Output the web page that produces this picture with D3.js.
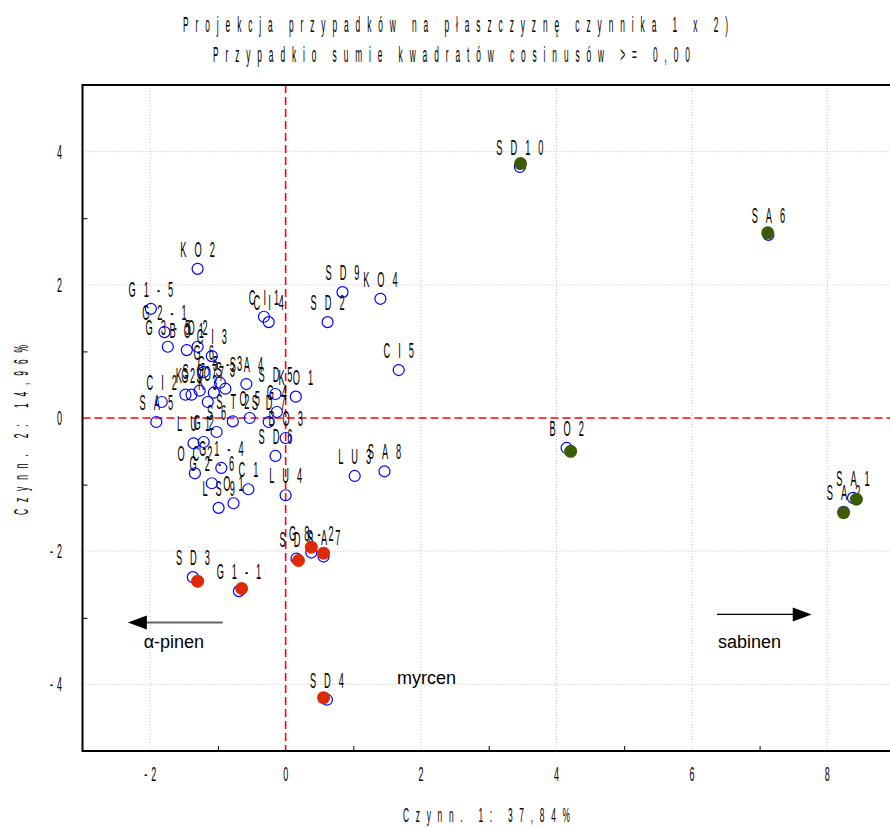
<!DOCTYPE html>
<html>
<head>
<meta charset="utf-8">
<script src="https://cdn.jsdelivr.net/npm/d3@7"></script>
<style>
  body { margin: 0; background: #fff; }
  svg { display: block; }
</style>
</head>
<body>
<script>
// case labels and their factor coordinates (blue open circles)
var names = ["KO2", "G1-5", "CI1", "CI4", "SD9", "KO4", "SD2", "CI5", "G2-1", "G3-5",
  "BO1", "O2", "CI3", "G6", "CI2", "K2", "G3", "SO7", "K3", "O7",
  "G5-3", "S3", "SA4", "SD5", "KO1", "SA5", "S6", "ST2", "O5", "SD7",
  "G4", "BO3", "LU1", "G2", "SD6", "G1-4", "OC2", "G2-6", "O1", "LS9",
  "C1", "LU4", "LU3", "SA8", "SD10", "SA6", "BO2", "SA1", "SA2", "SD3",
  "G1-1", "SD8", "G8-2", "SA7", "SD4"];
var fac1 = [-1.30, -1.99, -0.32, -0.25, 0.84, 1.40, 0.62, 1.67, -1.79, -1.74,
  -1.46, -1.30, -1.09, -1.21, -1.83, -1.48, -1.39, -1.27, -1.15, -1.06,
  -0.97, -0.89, -0.58, -0.15, 0.15, -1.91, -1.02, -0.78, -0.53, -0.25,
  -0.13, 0.00, -1.36, -1.21, -0.15, -0.95, -1.34, -1.09, -0.77, -0.99,
  -0.55, 0.00, 1.02, 1.46, 3.46, 7.13, 4.15, 8.38, 8.24, -1.37,
  -0.69, 0.16, 0.38, 0.56, 0.61];
var fac2 = [2.24, 1.64, 1.52, 1.44, 1.89, 1.79, 1.44, 0.72, 1.29, 1.07,
  1.02, 1.07, 0.93, 0.69, 0.24, 0.35, 0.35, 0.41, 0.24, 0.38,
  0.53, 0.44, 0.51, 0.36, 0.32, -0.06, -0.21, -0.05, 0.00, -0.06,
  0.09, -0.30, -0.38, -0.36, -0.57, -0.75, -0.83, -0.98, -1.28, -1.35,
  -1.07, -1.16, -0.87, -0.80, 3.77, 2.75, -0.45, -1.20, -1.41, -2.39,
  -2.60, -2.11, -2.02, -2.08, -4.23];

// highlighted groups (filled markers)
var greenNames = ["SD10", "SA6", "BO2", "SA1", "SA2"];
var greenX = [3.47, 7.12, 4.21, 8.43, 8.24];
var greenY = [3.82, 2.78, -0.50, -1.22, -1.42];

var redNames = ["SD3", "G1-1", "SD8", "G8-2", "SA7", "SD4"];
var redX = [-1.30, -0.65, 0.19, 0.38, 0.56, 0.56];
var redY = [-2.45, -2.56, -2.14, -1.94, -2.03, -4.20];

var xTicks = [-2, 0, 2, 4, 6, 8];
var yTicks = [-4, -2, 0, 2, 4];
var xMinor = [-1, 1, 3, 5, 7];
var yMinor = [-3, -1, 1, 3];

var titleLines = ["Projekcja przypadków na płaszczyznę czynnika  1 x  2)",
  "Przypadkio sumie kwadratów cosinusów >=  0,00"];
var xTitle = "Czynn. 1: 37,84%";
var yTitle = "Czynn. 2: 14,96%";

// variable arrows drawn on the plane
var arrowFrom = [[-0.93, -3.07], [6.37, -2.95]];
var arrowTo = [[-2.33, -3.07], [7.77, -2.95]];
var textNotes = ["α-pinen", "sabinen", "myrcen"];
var notePos = [[-1.65, -3.46], [6.85, -3.46], [2.08, -4.0]];

var W = 890, H = 828;
var FONT = "'Liberation Sans', Arial, sans-serif";

var svg = d3.select("body").append("svg")
  .attr("width", W)
  .attr("height", H);

var x = d3.scaleLinear().domain([-3, 9]).range([82.5, 895]);
var y = d3.scaleLinear().domain([-5, 5]).range([751, 85]);

// condensed, letter-spaced text like the original
function spaced(g, str, px, py, size, sx, gap, anchor, rot) {
  var dx = anchor == "middle" ? gap / 2 : (anchor == "end" ? gap : 0);
  var t = g.append("text")
    .attr("transform", "translate(" + px + "," + py + ")" + (rot ? " rotate(" + rot + ")" : "") +
      " translate(" + dx + ",0) scale(" + sx + ",1)")
    .attr("font-family", FONT)
    .attr("font-size", size)
    .attr("letter-spacing", gap / sx)
    .attr("text-anchor", anchor)
    .attr("fill", "#000")
    .text(str);
  return t;
}

// fit text to a given width
function fitted(g, str, px, py, size, sx, width, rot) {
  return g.append("text")
    .attr("transform", "translate(" + px + "," + py + ")" + (rot ? " rotate(" + rot + ")" : "") +
      " scale(" + sx + ",1)")
    .attr("font-family", FONT)
    .attr("font-size", size)
    .attr("textLength", width / sx)
    .attr("lengthAdjust", "spacing")
    .attr("fill", "#000")
    .text(str);
}

// Title
fitted(svg, titleLines[0], 183, 32, 22, 0.38, 545);
fitted(svg, titleLines[1], 213, 62, 22, 0.38, 477);

// Grid
var grid = svg.append("g")
  .attr("stroke", "#c4c4c4")
  .attr("stroke-dasharray", "1,2")
  .attr("stroke-width", 1);
grid.selectAll(".gx").data(xTicks.filter(d => d != 0)).enter().append("line")
  .attr("x1", d => x(d)).attr("x2", d => x(d))
  .attr("y1", y(5)).attr("y2", y(-5));
grid.selectAll(".gy").data(yTicks.filter(d => d != 0)).enter().append("line")
  .attr("x1", x(-3)).attr("x2", x(9))
  .attr("y1", d => y(d)).attr("y2", d => y(d));

// Zero lines
svg.append("line")
  .attr("x1", x(0)).attr("x2", x(0))
  .attr("y1", y(5)).attr("y2", y(-5))
  .attr("stroke", "#ff0000").attr("stroke-width", 1.6)
  .attr("stroke-dasharray", "8,4");
svg.append("line")
  .attr("x1", x(-3)).attr("x2", x(9))
  .attr("y1", y(0)).attr("y2", y(0))
  .attr("stroke", "#ff0000").attr("stroke-width", 1.6)
  .attr("stroke-dasharray", "8,4");

// Minor ticks (inward)
svg.append("g")
  .attr("transform", "translate(0," + y(-5) + ")")
  .call(d3.axisBottom(x).tickValues(xMinor).tickSize(-5).tickFormat(""))
  .call(g => g.select(".domain").remove());
svg.append("g")
  .attr("transform", "translate(" + x(-3) + ",0)")
  .call(d3.axisLeft(y).tickValues(yMinor).tickSize(-5).tickFormat(""))
  .call(g => g.select(".domain").remove());

// Frame
svg.append("rect")
  .attr("x", x(-3)).attr("y", y(5))
  .attr("width", x(9) - x(-3)).attr("height", y(-5) - y(5))
  .attr("fill", "none").attr("stroke", "#000").attr("stroke-width", 2);

// Tick labels
var tl = svg.append("g");
xTicks.forEach(function (d) {
  spaced(tl, d < 0 ? "-" + Math.abs(d) : String(d), x(d), 781, 20, 0.45, 4, "middle");
});
yTicks.forEach(function (d) {
  spaced(tl, d < 0 ? "-" + Math.abs(d) : String(d), 62, y(d) + 7, 20, 0.45, 4, "end");
});

// Axis titles
fitted(svg, xTitle, 403, 822, 21, 0.4, 167);
fitted(svg, yTitle, 28, 515, 21, 0.4, 170, -90);

// Case labels
var labels = svg.append("g");
names.forEach(function (n, i) {
  spaced(labels, n, x(fac1[i]), y(fac2[i]) - 12, 22, 0.42, 8, "middle");
});

// Open circles for every case
svg.append("g").selectAll("circle")
  .data(names).enter().append("circle")
  .attr("cx", (d, i) => x(fac1[i]))
  .attr("cy", (d, i) => y(fac2[i]))
  .attr("r", 5.5)
  .attr("fill", "none")
  .attr("stroke", "#0000ff")
  .attr("stroke-width", 1.2);

// Filled markers for highlighted groups
svg.append("g").selectAll("circle")
  .data(greenNames).enter().append("circle")
  .attr("cx", (d, i) => x(greenX[i]))
  .attr("cy", (d, i) => y(greenY[i]))
  .attr("r", 6.5)
  .attr("fill", "#3b5c07");
svg.append("g").selectAll("circle")
  .data(redNames).enter().append("circle")
  .attr("cx", (d, i) => x(redX[i]))
  .attr("cy", (d, i) => y(redY[i]))
  .attr("r", 6.5)
  .attr("fill", "#dd2a05");

// Arrows for variables
var arr = svg.append("g");
arrowFrom.forEach(function (f, i) {
  var x1 = x(f[0]), y1 = y(f[1]), x2 = x(arrowTo[i][0]), y2 = y(arrowTo[i][1]);
  var dir = x2 > x1 ? 1 : -1;
  arr.append("line")
    .attr("x1", x1).attr("y1", y1)
    .attr("x2", x2 - dir * 16).attr("y2", y2)
    .attr("stroke", i == 0 ? "#666" : "#000")
    .attr("stroke-width", i == 0 ? 2 : 1.3);
  arr.append("path")
    .attr("d", "M" + x2 + "," + y2 + "L" + (x2 - dir * 19) + "," + (y2 - 7) +
      "L" + (x2 - dir * 19) + "," + (y2 + 7) + "Z")
    .attr("fill", "#000");
});

svg.append("g").selectAll("text")
  .data(textNotes).enter().append("text")
  .attr("x", (d, i) => x(notePos[i][0]))
  .attr("y", (d, i) => y(notePos[i][1]))
  .attr("text-anchor", "middle")
  .attr("font-family", FONT)
  .attr("font-size", 18)
  .attr("fill", "#000")
  .text(d => d);
</script>
</body>
</html>
